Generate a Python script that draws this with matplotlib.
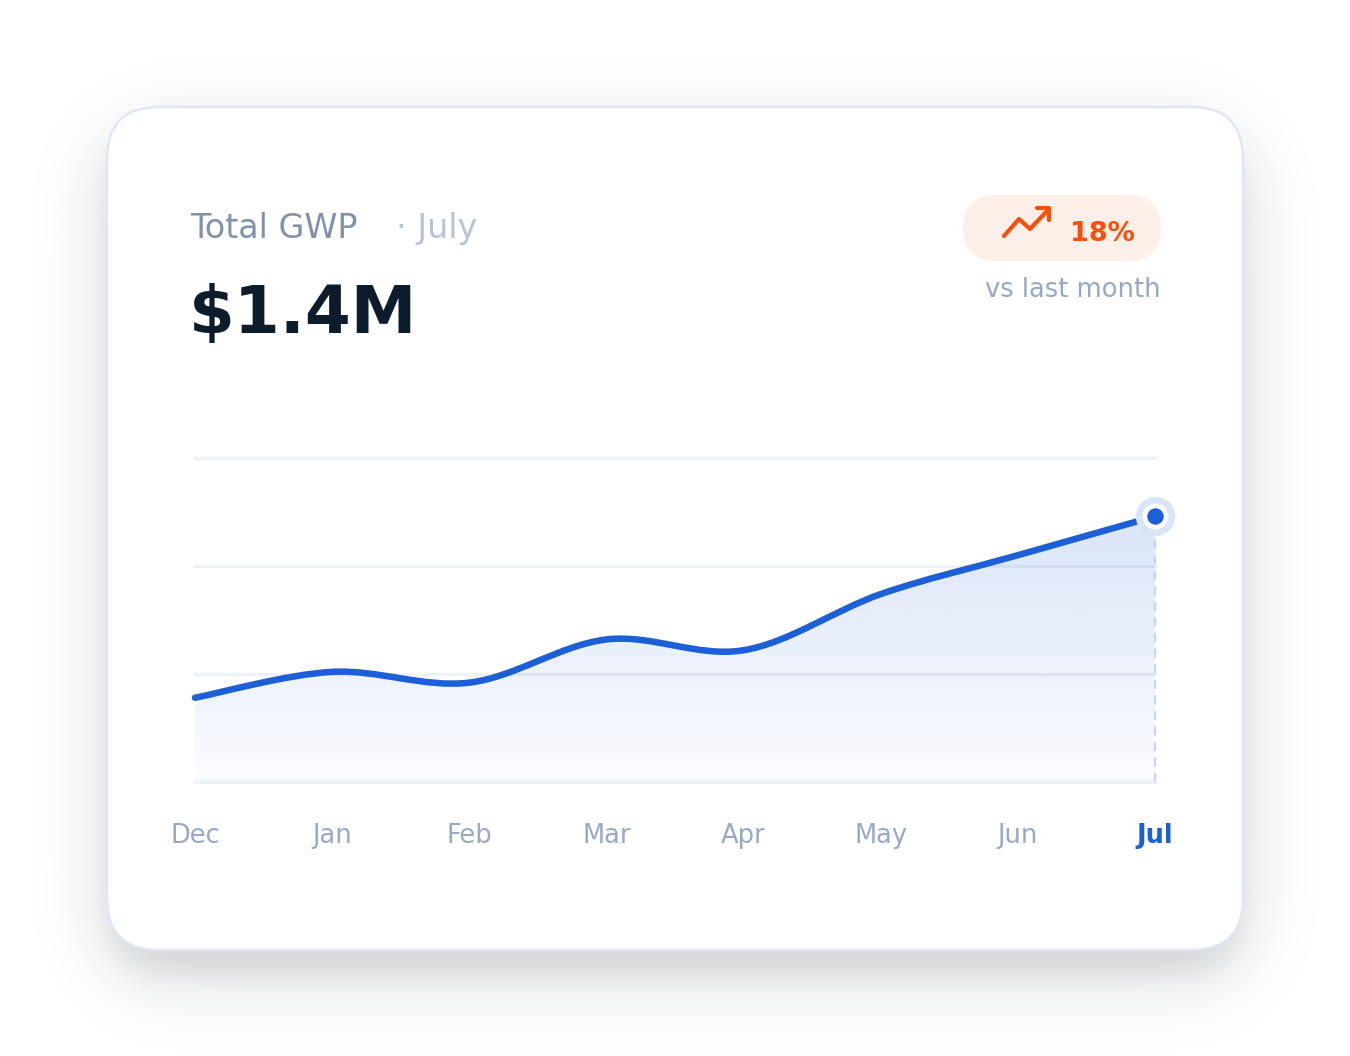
import numpy as np
import matplotlib
matplotlib.use('Agg')
import matplotlib.pyplot as plt
from matplotlib.patches import FancyBboxPatch, PathPatch
from matplotlib.path import Path
from matplotlib.transforms import blended_transform_factory

# data
months = ['Dec', 'Jan', 'Feb', 'Mar', 'Apr', 'May', 'Jun', 'Jul']
gwp = [0.39, 0.51, 0.46, 0.66, 0.61, 0.87, 1.05, 1.23]   # $M
grid_vals = [0, 0.5, 1.0, 1.5]
title = 'Total GWP'
period = '· July'
headline = '$1.4M'
change = '18%'
change_note = 'vs last month'

W, H = 1350, 1056
BLUE = '#1d5fd6'
ORANGE = '#ff4d0a'
plt.rcParams['font.family'] = ['DejaVu Sans']


def blur(img, sigma):
    fy = np.fft.fftfreq(img.shape[0])[:, None]
    fx = np.fft.fftfreq(img.shape[1])[None, :]
    g = np.exp(-2 * (np.pi * sigma) ** 2 * (fx ** 2 + fy ** 2))
    return np.real(np.fft.ifft2(np.fft.fft2(img) * g))


def rrect_mask(x0, y0, x1, y1, r, pad=250):
    yy, xx = np.mgrid[-pad:H + pad, -pad:W + pad] + 0.5
    dx = np.maximum(np.maximum(x0 + r - xx, xx - (x1 - r)), 0)
    dy = np.maximum(np.maximum(y0 + r - yy, yy - (y1 - r)), 0)
    inside = (xx >= x0) & (xx <= x1) & (yy >= y0) & (yy <= y1)
    return (inside & (np.hypot(dx, dy) <= r)).astype(float)


fig = plt.figure(figsize=(W / 100, H / 100), dpi=100)
fig.patch.set_facecolor('white')
ax_bg = fig.add_axes([0, 0, 1, 1])
ax_bg.set_xlim(0, W)
ax_bg.set_ylim(H, 0)
ax_bg.axis('off')

# card + soft shadow
cx0, cy0, cx1, cy1, cr = 107, 107, 1243, 950, 52
pad = 250
m = rrect_mask(cx0, cy0 + 26, cx1, cy1 + 26, cr, pad)
sh = 0.15 * blur(m, 40) + 0.07 * blur(m, 12)
sh = np.clip(sh[pad:-pad, pad:-pad], 0, 1)
rgba = np.zeros((H, W, 4))
rgba[..., :3] = (0.10, 0.13, 0.18)
rgba[..., 3] = sh
ax_bg.imshow(rgba, extent=[0, W, H, 0], zorder=0, interpolation='bilinear')
ax_bg.set_xlim(0, W)
ax_bg.set_ylim(H, 0)

card = FancyBboxPatch((cx0, cy0), cx1 - cx0, cy1 - cy0,
                      boxstyle=f'round,pad=0,rounding_size={cr}',
                      fc='white', ec='#dfe6f5', lw=1.8, zorder=1)
ax_bg.add_patch(card)

# header texts
ax_bg.text(190, 238, title, fontsize=24, color='#8191ab', va='baseline', zorder=3)
ax_bg.text(396, 238, period, fontsize=24, color='#b6c2d7', va='baseline', zorder=3)
ax_bg.text(189, 333, headline, fontsize=47.5, fontweight='bold', color='#0c1c2b',
           va='baseline', zorder=3, parse_math=False)

# badge
badge = FancyBboxPatch((963, 195), 198, 66, boxstyle='round,pad=0,rounding_size=33',
                       fc='#ffefe9', ec='none', zorder=2)
ax_bg.add_patch(badge)
ax_bg.plot([1004, 1019, 1030, 1048], [236, 219, 229, 210], color=ORANGE, lw=3.0,
           solid_capstyle='round', solid_joinstyle='round', zorder=3)
ax_bg.plot([1037, 1049, 1049], [208, 208, 220], color=ORANGE, lw=3.0,
           solid_capstyle='round', solid_joinstyle='round', zorder=3)
ax_bg.text(1070, 241, change, fontsize=19.5, fontweight='bold', color=ORANGE,
           va='baseline', zorder=3)
ax_bg.text(1161, 297, change_note, fontsize=18.5, color='#98a7c2', ha='right',
           va='baseline', zorder=3)

# chart
px_left, px_right, px_bot, px_top = 195, 1155, 782, 458
ax = fig.add_axes([px_left / W, (H - px_bot) / H, (px_right - px_left) / W,
                   (px_bot - px_top) / H])
ax.set_xlim(0, len(months) - 1)
ax.set_ylim(grid_vals[0], grid_vals[-1])
ax.axis('off')
ax.patch.set_alpha(0)

for g in grid_vals:
    ax.axhline(g, color='#edf1f8', lw=2.2, zorder=1, clip_on=False)

# smooth curve (catmull-rom as bezier segments)
xs = np.arange(len(gwp), dtype=float)
ys = np.array(gwp, dtype=float)
pts = np.column_stack([xs, ys])
ext = np.vstack([pts[0], pts, pts[-1]])
verts = [tuple(pts[0])]
codes = [Path.MOVETO]
for i in range(len(pts) - 1):
    p0, p1, p2, p3 = ext[i], ext[i + 1], ext[i + 2], ext[i + 3]
    c1 = p1 + (p2 - p0) / 6
    c2 = p2 - (p3 - p1) / 6
    verts += [tuple(c1), tuple(c2), tuple(p2)]
    codes += [Path.CURVE4] * 3
line_path = Path(verts, codes)
area_path = Path(verts + [(xs[-1], 0), (xs[0], 0), tuple(pts[0])],
                 codes + [Path.LINETO, Path.LINETO, Path.CLOSEPOLY])

# gradient fill under the line
n = 256
grad = np.zeros((n, 1, 4))
grad[..., :3] = matplotlib.colors.to_rgb(BLUE)
v = np.linspace(grid_vals[0], grid_vals[-1], n)
grad[:, 0, 3] = np.clip(0.02 + 0.14 * v / ys.max(), 0, 0.17)
clip = PathPatch(area_path, fc='none', ec='none', transform=ax.transData)
ax.add_patch(clip)
im = ax.imshow(grad, extent=[0, len(months) - 1, grid_vals[0], grid_vals[-1]],
               origin='lower', aspect='auto', zorder=2)
im.set_clip_path(clip)

ax.plot([xs[-1], xs[-1]], [0, ys[-1]], color='#c6d5f3', lw=1.6,
        ls=(0, (4, 3)), zorder=3, clip_on=False)
ax.add_patch(PathPatch(line_path, fc='none', ec=BLUE, lw=4.7, capstyle='round',
                       joinstyle='round', zorder=4, clip_on=False))

# last point marker
ax.scatter([xs[-1]], [ys[-1]], s=800, color='#d9e4f8', zorder=5, clip_on=False, lw=0)
ax.scatter([xs[-1]], [ys[-1]], s=350, color='white', zorder=6, clip_on=False, lw=0)
ax.scatter([xs[-1]], [ys[-1]], s=140, color=BLUE, zorder=7, clip_on=False, lw=0)

# month labels
tr = blended_transform_factory(ax.transData, ax_bg.transData)
for i, mname in enumerate(months):
    last = i == len(months) - 1
    ax.text(i, 843, mname, transform=tr, ha='center', va='baseline', fontsize=18.5,
            color=BLUE if last else '#9aa8c1',
            fontweight='bold' if last else 'normal', clip_on=False)

fig.savefig('out.png', dpi=100, facecolor='white')
